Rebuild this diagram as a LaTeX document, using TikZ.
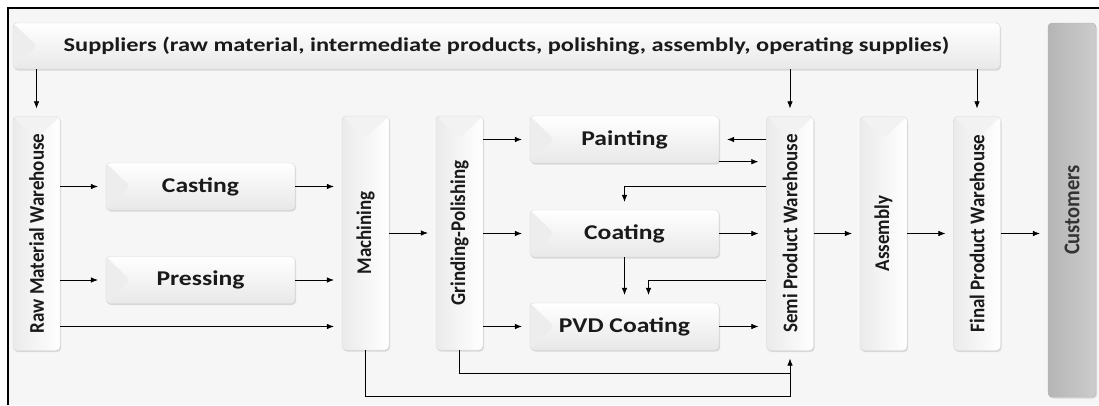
\documentclass[tikz,border=0pt]{standalone}
\usepackage{fontspec}
\usepackage{graphicx}
\setmainfont{Carlito}
\usetikzlibrary{arrows.meta,shadows}
\definecolor{bgc}{HTML}{F6F6F6}
\definecolor{txt}{HTML}{1A1A1A}
\newcommand{\hw}[1]{\scalebox{1.22}[1]{#1}}
\newcommand{\vt}[1]{\scalebox{1.1}[1]{\rotatebox{90}{#1}}}
\tikzset{
  box/.style={rounded corners=4pt, draw=gray!30, line width=0.4pt,
    top color=white, bottom color=gray!18,
    drop shadow={shadow xshift=1pt, shadow yshift=-1.5pt, opacity=0.25},
    text=txt, inner sep=0pt, font=\bfseries\fontsize{21}{24}\selectfont},
  hbox/.style={box, minimum width=189pt, minimum height=47pt,
    path picture={\fill[gray!14] (path picture bounding box.north west) -- ([xshift=24pt]path picture bounding box.west) -- (path picture bounding box.south west) -- cycle;}},
  vbox/.style={box, left color=gray!16, right color=white, minimum width=47pt, minimum height=234pt,
    font=\bfseries\fontsize{19}{22}\selectfont,
    path picture={\fill[gray!10] (path picture bounding box.north west) -- ([yshift=-22pt]path picture bounding box.north) -- (path picture bounding box.north east) -- cycle;}},
  custbox/.style={box, left color=gray!58, right color=gray!40, draw=gray!60,
    minimum width=48pt, minimum height=374pt, text=black!80,
    font=\bfseries\fontsize{20.5}{24}\selectfont},
  arr/.style={-{Latex[length=7pt,width=5.5pt]}, line width=0.6pt, shorten >=8pt},
  ln/.style={line width=0.6pt}
}
\begin{document}
\begin{tikzpicture}[x=1pt,y=-1pt]
\useasboundingbox (0,0) rectangle (1099,405);
\fill[bgc] (8,8) rectangle (1099,405);
\draw[line width=2pt] (8,405) -- (8,8) -- (1099,8);

\node[box, minimum width=987pt, minimum height=46pt, font=\bfseries\fontsize{19.5}{22}\selectfont,
  path picture={\fill[gray!14] (path picture bounding box.north west) -- ([xshift=24pt]path picture bounding box.west) -- (path picture bounding box.south west) -- cycle;}] (sup) at (506.5,46)
  {\scalebox{1.25}[1]{Suppliers (raw material, intermediate products, polishing, assembly, operating supplies)}};

\node[vbox] (raw) at (36.5,233.5) {\vt{Raw Material Warehouse}};
\node[hbox] (casting) at (200.5,186.5) {\hw{Casting}};
\node[hbox] (pressing) at (200.5,280) {\hw{Pressing}};
\node[vbox] (mach) at (365.5,233) {\vt{Machining}};
\node[vbox] (grind) at (459.5,233) {\vt{Grinding-Polishing}};
\node[hbox] (paint) at (624.5,139.5) {\hw{Painting}};
\node[hbox] (coat) at (624.5,233.5) {\hw{Coating}};
\node[hbox] (pvd) at (624.5,326.5) {\hw{PVD Coating}};
\node[vbox] (semi) at (790,233.5) {\vt{Semi Product Warehouse}};
\node[vbox] (asm) at (883.5,233.5) {\vt{Assembly}};
\node[vbox] (final) at (977,233.5) {\vt{Final Product Warehouse}};
\node[custbox] (cust) at (1072,210) {\vt{Customers}};

\coordinate (gy) at (0,373);
\coordinate (my) at (0,396);

% from suppliers
\draw[arr] (sup.south -| raw.north) -- (raw.north);
\draw[arr] (sup.south -| semi.north) -- (semi.north);
\draw[arr] (sup.south -| final.north) -- (final.north);

% raw material
\draw[arr] (raw.east |- casting.west) -- (casting.west);
\draw[arr] (raw.east |- pressing.west) -- (pressing.west);
\draw[arr] (raw.east |- pvd.west) -- (mach.west |- pvd.west);
\draw[arr] (casting.east) -- (mach.west |- casting.east);
\draw[arr] (pressing.east) -- (mach.west |- pressing.east);

% machining, grinding
\draw[arr] (mach.east) -- (grind.west);
\draw[arr] (grind.east |- paint.west) -- (paint.west);
\draw[arr] (grind.east |- coat.west) -- (coat.west);
\draw[arr] (grind.east |- pvd.west) -- (pvd.west);

% finishing loops
\draw[arr] (semi.west |- paint.east) -- (paint.east);
\draw[arr] ([yshift=1.5pt]paint.south east) -- ([yshift=1.5pt]semi.west |- paint.south east);
\draw[arr] (semi.west |- casting.east) -| (coat.north);
\draw[arr] (coat.east) -- (semi.west |- coat.east);
\draw[arr] (coat.south) -- (pvd.north);
\draw[arr] (semi.west |- pressing.east) -| ([xshift=24pt]pvd.north);
\draw[arr] (pvd.east) -- (semi.west |- pvd.east);

% returns to semi product warehouse
\draw[arr] (grind.south) |- (gy -| semi.south) -- (semi.south);
\draw[ln] (mach.south) |- (my -| semi.south) -- (gy -| semi.south);

% to customers
\draw[arr] (semi.east) -- (asm.west |- semi.east);
\draw[arr] (asm.east) -- (final.west |- asm.east);
\draw[arr] (final.east) -- (cust.west |- final.east);
\end{tikzpicture}
\end{document}
